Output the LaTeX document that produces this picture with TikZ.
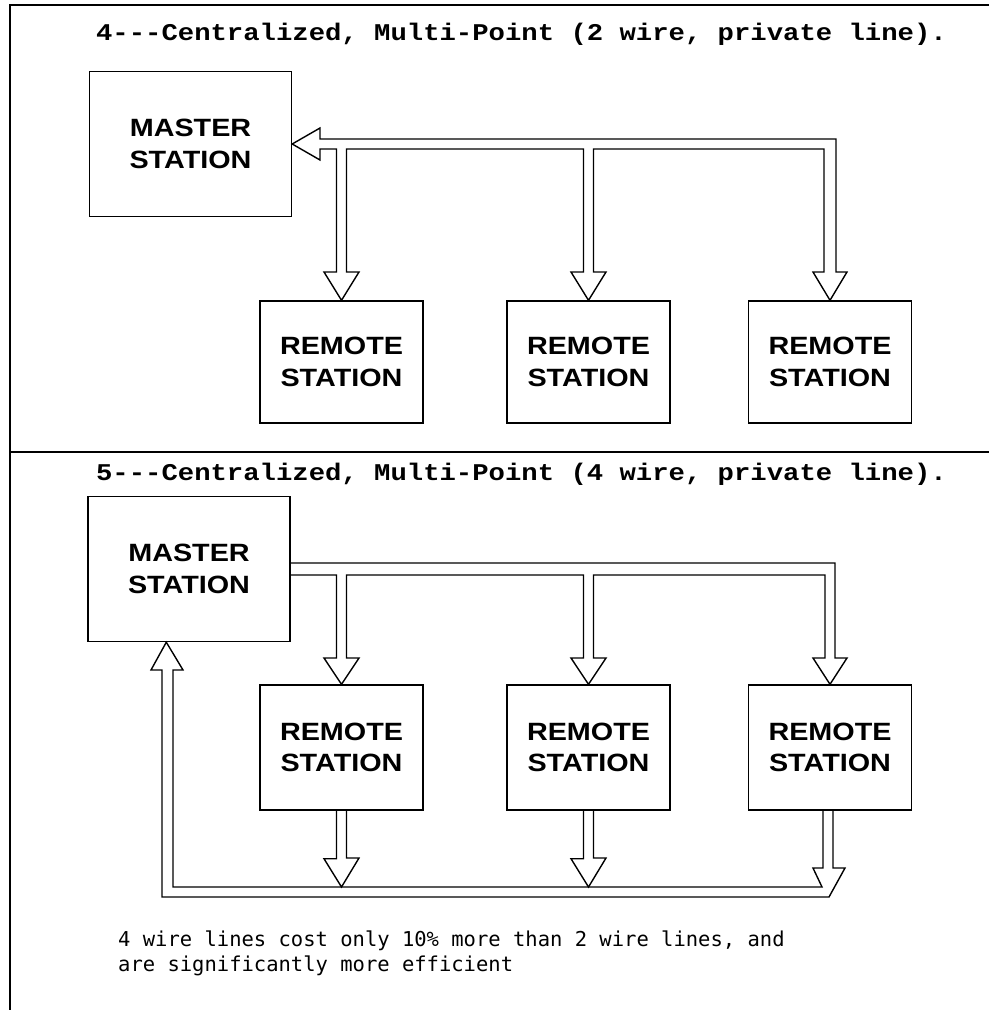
\documentclass[tikz,border=0pt]{standalone}
\usepackage{fontspec}
\usepackage{graphicx}
\setmainfont{Liberation Sans}
\newfontfamily\ttlfont{Liberation Mono}
\newfontfamily\notefont{DejaVu Sans Mono}
\usetikzlibrary{calc}
\newcommand\stxt[1]{\scalebox{1.15}[1]{#1}}
\begin{document}
\begin{tikzpicture}[x=1pt,y=-1pt,
  stn/.style={draw, line width=1.4pt, inner sep=0pt, align=center,
    font=\bfseries\fontsize{25}{31.5}\selectfont},
  mst/.style={stn, minimum width=202pt, minimum height=145pt},
  rmt/.style={stn, minimum width=163pt, minimum height=122pt},
  pipe/.style={draw, line width=1.4pt, line join=miter},
  framel/.style={line width=1.6pt},
  ttlstyle/.style={font=\ttlfont\bfseries\fontsize{24}{28}\selectfont, anchor=base, inner sep=0pt},
  notestyle/.style={font=\notefont\fontsize{20.5}{25}\selectfont, anchor=base west, inner sep=0pt}
]
\useasboundingbox (0,0) rectangle (989,1010);

% frame
\draw[framel] (989,5) -- (10,5) -- (10,1010);
\draw[framel] (10,452) -- (989,452);

% ---------- panel 4 ----------
\node[ttlstyle] (t1) at (521.5,40) {\scalebox{1.136}[1]{4---Centralized, Multi-Point (2 wire, private line).}};
\node[mst] (m1) at (190.5,144) {\stxt{MASTER}\\\stxt{STATION}};
\node[rmt] (r1) at (341.5,362) {\stxt{REMOTE}\\\stxt{STATION}};
\node[rmt] (r2) at (588.5,362) {\stxt{REMOTE}\\\stxt{STATION}};
\node[rmt] (r3) at (830,362) {\stxt{REMOTE}\\\stxt{STATION}};

\draw[pipe] (m1.east) -- (320,128) -- (320,139) -- (836,139) -- (836,272) -- (847,272)
  -- (r3.north) -- (813,272) -- (824,272) -- (824,149)
  -- (593.5,149) -- (593.5,272) -- (606,272) -- (r2.north) -- (571,272) -- (583.5,272) -- (583.5,149)
  -- (346.5,149) -- (346.5,272) -- (359,272) -- (r1.north) -- (324,272) -- (336.5,272) -- (336.5,149)
  -- (320,149) -- (320,160) -- cycle;

% ---------- panel 5 ----------
\node[ttlstyle] (t2) at (521.5,480) {\scalebox{1.136}[1]{5---Centralized, Multi-Point (4 wire, private line).}};
\node[mst] (m2) at (189,569) {\stxt{MASTER}\\\stxt{STATION}};
\node[rmt, minimum height=125pt] (r4) at (341.5,747.5) {\stxt{REMOTE}\\\stxt{STATION}};
\node[rmt, minimum height=125pt] (r5) at (588.5,747.5) {\stxt{REMOTE}\\\stxt{STATION}};
\node[rmt, minimum height=125pt] (r6) at (830,747.5) {\stxt{REMOTE}\\\stxt{STATION}};

% outgoing bus
\draw[pipe] (m2.east |- 0,563) -- (835,563) -- (835,658) -- (847,658) -- (r6.north) -- (813,658) -- (825,658) -- (825,575)
  -- (593.5,575) -- (593.5,658) -- (606,658) -- (r5.north) -- (571,658) -- (583.5,658) -- (583.5,575)
  -- (346.5,575) -- (346.5,658) -- (359,658) -- (r4.north) -- (324,658) -- (336.5,658) -- (336.5,575)
  -- (m2.east |- 0,575);

% drops into return bus
\draw[pipe] (r4.south) ++(-5,0) -- ++(0,48) -- ++(-12.5,0) -- (341.5,887) -- (359,858) -- (346.5,858) -- (r4.south -| 346.5,0);
\draw[pipe] (r5.south) ++(-5,0) -- ++(0,48) -- ++(-12.5,0) -- (588.5,887) -- (606,858) -- (593.5,858) -- (r5.south -| 593.5,0);

% return bus
\draw[pipe] (r6.south -| 823,0) -- (823,868) -- (813,868) -- (822,887) -- (173,887) -- (173,670) -- (183,670)
  -- ($(m2.south west)+(79,0)$) -- (151,670) -- (162,670) -- (162,897) -- (829,897) -- (845,868) -- (833,868)
  -- (r6.south -| 833,0);

% note
\node[notestyle] (n1) at (118,946) {4 wire lines cost only 10\% more than 2 wire lines, and};
\node[notestyle] (n2) at (118,971) {are significantly more efficient};
\end{tikzpicture}
\end{document}
